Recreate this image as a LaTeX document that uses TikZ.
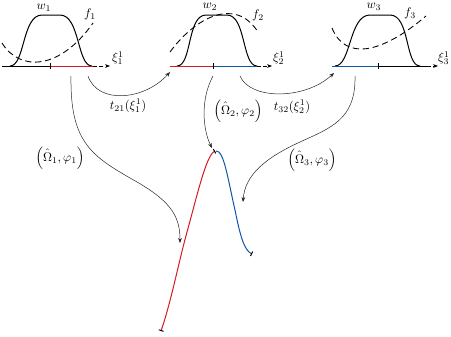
\documentclass[tikz,border=0pt]{standalone}
\usetikzlibrary{arrows.meta}
\definecolor{cred}{RGB}{215,25,35}
\definecolor{cblue}{RGB}{15,85,165}
\begin{document}
\begin{tikzpicture}[x=0.8pt,y=-0.8pt,
  ax/.style={line width=0.8pt},
  tickmark/.style={line width=0.8pt},
  wcurve/.style={line width=0.8pt},
  fcurve/.style={line width=0.7pt, dash pattern=on 5pt off 3pt},
  conn/.style={line width=0.4pt, black!85, -{Stealth[length=4pt,width=3pt]}},
  cont/.style={line width=0.6pt, dash pattern=on 3pt off 2pt, -{Stealth[length=4pt,width=3pt]}},
  lbl/.style={inner sep=1pt},
  endbar/.style={-{Bar[width=4pt,color=black]}}]
\useasboundingbox (0,0) rectangle (451,336);

% ---------- panel 1 ----------
\coordinate (a1s) at (2,66);
\coordinate (a1m) at (50,66);
\coordinate (a1e) at (93,66);
\coordinate (a1t) at (110,66);
\draw[wcurve] (10,66) .. controls (25,66) and (22,15) .. (42,15) -- (60,15) .. controls (80,15) and (77,66) .. (92,66);
\draw[fcurve] (2,43) .. controls (20,72) and (60,70) .. (93,23);
\draw[ax] (a1s) -- (a1m);
\draw[ax,cred] (a1m) -- (a1e);
\draw[tickmark] (50,63) -- (50,69);
\draw[cont] (a1e) -- (a1t);
\node[lbl] (xi1) at (118,58) {$\xi_1^1$};
\node[lbl] (w1) at (44,8) {$w_1$};
\node[lbl] (f1) at (90,14) {$f_1$};

% ---------- panel 2 ----------
\coordinate (a2s) at (170,66);
\coordinate (a2m) at (213,66);
\coordinate (a2e) at (257,66);
\coordinate (a2t) at (272,66);
\draw[wcurve] (177,66) .. controls (192,66) and (187,15) .. (206,15) -- (227,15) .. controls (246,15) and (242,66) .. (257,66);
\draw[fcurve] (170,52) .. controls (195,18) and (235,-4) .. (258,32);
\draw[ax,cred] (a2s) -- (a2m);
\draw[ax,cblue] (a2m) -- (a2e);
\draw[tickmark] (213,63) -- (213,69);
\draw[cont] (a2e) -- (a2t);
\node[lbl] (xi2) at (279,58) {$\xi_2^1$};
\node[lbl] (w2) at (210,7) {$w_2$};
\node[lbl] (f2) at (258,15) {$f_2$};

% ---------- panel 3 ----------
\coordinate (a3s) at (332,66);
\coordinate (a3m) at (378,66);
\coordinate (a3e) at (427,66);
\coordinate (a3t) at (438,66);
\draw[wcurve] (335,66) .. controls (351,66) and (349,15) .. (370,15) -- (390,15) .. controls (410,15) and (405,66) .. (420,66);
\draw[fcurve] (332,28) .. controls (345,60) and (380,55) .. (426,16);
\draw[ax,cblue] (a3s) -- (a3m);
\draw[ax] (a3m) -- (a3e);
\draw[tickmark] (378,63) -- (378,69);
\draw[cont] (a3e) -- (a3t);
\node[lbl] (xi3) at (444,58) {$\xi_3^1$};
\node[lbl] (w3) at (374,7) {$w_3$};
\node[lbl] (f3) at (410,13) {$f_3$};

% ---------- bottom curve ----------
\coordinate (rb) at (161,331);
\coordinate (pk) at (215,151);
\coordinate (pk2) at (216,151);
\coordinate (be) at (252,254);
\draw[line width=0.8pt, cred, {Bar[width=4pt,color=black]}-{Bar[width=4pt,color=black]}]
  (rb) .. controls (171,302) and (178,265) .. (187,232) .. controls (197,196) and (206,156) .. (pk);
\draw[line width=0.8pt, cblue, endbar]
  (pk2) .. controls (224,150) and (228,180) .. (235,210) .. controls (240,235) and (244,250) .. (be);

% ---------- connectors ----------
\coordinate (o1s) at (71,76);
\coordinate (o1e) at (180,243);
\draw[conn] (o1s) .. controls (70,140) and (90,155) .. (130,178) .. controls (170,200) and (180,215) .. (o1e);
\node[lbl] (L1) at (60,158) {$\Bigl(\hat{\Omega}_1,\varphi_1\Bigr)$};

\coordinate (o2s) at (213,76);
\coordinate (o2e) at (212,148);
\draw[conn] (o2s) .. controls (200,100) and (203,130) .. (o2e);
\node[lbl] (L2) at (238,111) {$\Bigl(\hat{\Omega}_2,\varphi_2\Bigr)$};

\coordinate (o3s) at (355,76);
\coordinate (o3e) at (243,202);
\draw[conn] (o3s) .. controls (356,120) and (330,128) .. (300,142) .. controls (265,158) and (245,175) .. (o3e);
\node[lbl] (L3) at (312,160) {$\Bigl(\hat{\Omega}_3,\varphi_3\Bigr)$};

\coordinate (t1s) at (88,76);
\coordinate (t1e) at (170,72);
\draw[conn] (t1s) .. controls (98,105) and (145,100) .. (t1e);
\node[lbl] (T1) at (128,106) {$t_{21}(\xi_1^1)$};

\coordinate (t2s) at (240,76);
\coordinate (t2e) at (334,73);
\draw[conn] (t2s) .. controls (250,100) and (305,100) .. (t2e);
\node[lbl] (T2) at (292,107) {$t_{32}(\xi_2^1)$};
\end{tikzpicture}
\end{document}
